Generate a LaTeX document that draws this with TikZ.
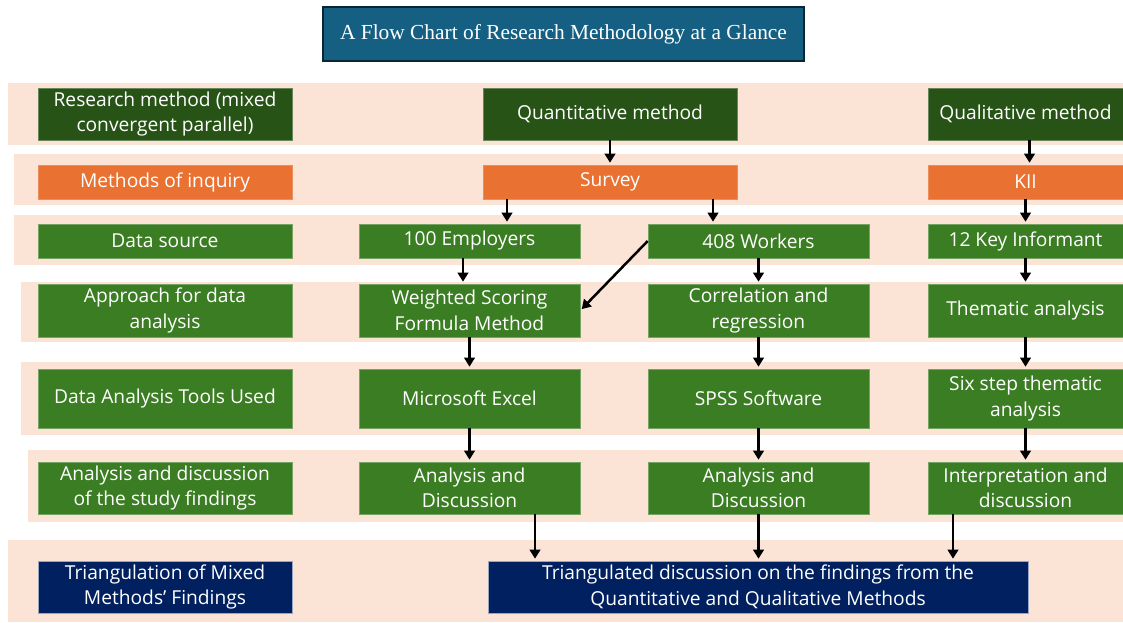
\documentclass[tikz,border=0pt]{standalone}
\usepackage{fontspec}
\setmainfont{Open Sans}
\newfontfamily\titlefont{Liberation Serif}
\usepackage{tikz}
\usetikzlibrary{positioning}
\usetikzlibrary{shapes, arrows.meta}

\definecolor{bandpink}{HTML}{FBE3D6}
\definecolor{darkgreen}{HTML}{275317}
\definecolor{midgreen}{HTML}{3B7D23}
\definecolor{inqorange}{HTML}{E97132}
\definecolor{navyblue}{HTML}{002060}
\definecolor{titleblue}{HTML}{156082}

\begin{document}
\begin{tikzpicture}[x=1pt, y=-1pt, node distance = 68pt]
    \tikzstyle{cell} = [rectangle, text=white, inner sep=0pt, align=center,
    font=\fontsize{19.2}{25.5}\selectfont, line width=0.6pt]
    \tikzstyle{darkbox} = [cell, fill=darkgreen, draw=darkgreen!70!white]
    \tikzstyle{orangebox} = [cell, fill=inqorange, draw=inqorange!80!white]
    \tikzstyle{greenbox} = [cell, fill=midgreen, draw=midgreen!70!white]
    \tikzstyle{navybox} = [cell, fill=navyblue, draw=navyblue!40!white]
    \tikzstyle{titlebox} = [rectangle, fill=titleblue, draw=titleblue!40!black,
    line width=1.2pt, text=white, font=\titlefont\fontsize{21.4}{24}\selectfont]
    \tikzstyle{line} = [draw, line width=2.5pt, shorten >=2pt,
    -{Triangle[width=10.5pt, length=9pt]}]
    \tikzstyle{band} = [fill=bandpink]
    \useasboundingbox (0,0) rectangle (1123,622);

    % background bands, one per row
    \fill[band] (8,83) rectangle (1123,145);
    \fill[band] (14,154) rectangle (1123,205);
    \fill[band] (14,215) rectangle (1123,265);
    \fill[band] (21,282) rectangle (1123,342);
    \fill[band] (21,362) rectangle (1123,435);
    \fill[band] (28,450) rectangle (1123,522);
    \fill[band] (8,540) rectangle (1123,622);

    \node [titlebox, minimum width=481pt, minimum height=54pt] (title) at (563.5,34)
    {A Flow Chart of Research Methodology at a Glance};

    % row labels on the left
    \node [darkbox, minimum width=254pt, minimum height=52pt] (resmeth) at (165,114)
    {Research method (mixed\\convergent parallel)};
    \node [orangebox, below of=resmeth, minimum width=254pt, minimum height=34pt] (inquiry)
    {Methods of inquiry};
    \node [greenbox, below of=inquiry, node distance=59pt, minimum width=254pt, minimum height=34pt] (source)
    {Data source};
    \node [greenbox, below of=source, node distance=69.5pt, minimum width=254pt, minimum height=53pt] (approach)
    {Approach for data\\analysis};
    \node [greenbox, below of=approach, node distance=88pt, minimum width=254pt, minimum height=59pt] (tools)
    {Data Analysis Tools Used};
    \node [greenbox, below of=tools, node distance=89.5pt, minimum width=254pt, minimum height=52pt] (findings)
    {Analysis and discussion\\of the study findings};
    \node [navybox, below of=findings, node distance=99pt, minimum width=254pt, minimum height=52pt] (triang)
    {Triangulation of Mixed\\Methods’ Findings};

    % research method and inquiry
    \node [darkbox, right of=resmeth, node distance=445pt, minimum width=254pt, minimum height=52pt] (quant)
    {Quantitative method};
    \node [darkbox, right of=resmeth, node distance=860.5pt, minimum width=195pt, minimum height=52pt] (qual)
    {Qualitative method};
    \node [orangebox, right of=inquiry, node distance=445pt, minimum width=254pt, minimum height=34pt] (survey)
    {Survey};
    \node [orangebox, right of=inquiry, node distance=860.5pt, minimum width=195pt, minimum height=34pt] (kii)
    {KII};

    % data source
    \node [greenbox, right of=source, node distance=304.5pt, minimum width=221pt, minimum height=34pt] (employers)
    {100 Employers};
    \node [greenbox, right of=source, node distance=593.5pt, minimum width=221pt, minimum height=34pt] (workers)
    {408 Workers};
    \node [greenbox, right of=source, node distance=860.5pt, minimum width=195pt, minimum height=34pt] (informant)
    {12 Key Informant};

    % approach for analysis
    \node [greenbox, right of=approach, node distance=304.5pt, minimum width=221pt, minimum height=53pt] (wsfm)
    {Weighted Scoring\\Formula Method};
    \node [greenbox, right of=approach, node distance=593.5pt, minimum width=221pt, minimum height=53pt] (correg)
    {Correlation and\\regression};
    \node [greenbox, right of=approach, node distance=860.5pt, minimum width=195pt, minimum height=53pt] (thematic)
    {Thematic analysis};

    % tools
    \node [greenbox, right of=tools, node distance=304.5pt, minimum width=221pt, minimum height=59pt] (excel)
    {Microsoft Excel};
    \node [greenbox, right of=tools, node distance=593.5pt, minimum width=221pt, minimum height=59pt] (spss)
    {SPSS Software};
    \node [greenbox, right of=tools, node distance=860.5pt, minimum width=195pt, minimum height=59pt] (sixstep)
    {Six step thematic\\analysis};

    % discussion
    \node [greenbox, right of=findings, node distance=304.5pt, minimum width=221pt, minimum height=52pt] (disc1)
    {Analysis and\\Discussion};
    \node [greenbox, right of=findings, node distance=593.5pt, minimum width=221pt, minimum height=52pt] (disc2)
    {Analysis and\\Discussion};
    \node [greenbox, right of=findings, node distance=860.5pt, minimum width=195pt, minimum height=52pt] (interp)
    {Interpretation and\\discussion};

    \node [navybox, right of=triang, node distance=593pt, minimum width=540pt, minimum height=52pt] (triangdisc)
    {Triangulated discussion on the findings from the\\Quantitative and Qualitative Methods};

    \path [line] (quant) -- (survey);
    \path [line] ([xshift=4pt]qual.south) -- ([xshift=4pt]kii.north);
    \path [line] ([xshift=-103pt]survey.south) -- ([xshift=37.5pt]employers.north);
    \path [line] ([xshift=103pt]survey.south) -- ([xshift=-45.5pt]workers.north);
    \path [line] (kii) -- (informant);
    \path [line] ([xshift=-6.5pt]employers.south) -- ([xshift=-6.5pt]wsfm.north);
    \path [line] (workers) -- (correg);
    \path [line] (workers.west) -- (wsfm.east);
    \path [line] (informant) -- (thematic);
    \path [line] (wsfm) -- (excel);
    \path [line] (correg) -- (spss);
    \path [line] (thematic) -- (sixstep);
    \path [line] (excel) -- (disc1);
    \path [line] (spss) -- (disc2);
    \path [line] (sixstep) -- (interp);
    \path [line] ([xshift=65.5pt]disc1.south) -- ([xshift=-223pt]triangdisc.north);
    \path [line] (disc2.south) -- (disc2.south |- triangdisc.north);
    \path [line] ([xshift=-72.5pt]interp.south) -- ([xshift=195pt]triangdisc.north);
\end{tikzpicture}
\end{document}
